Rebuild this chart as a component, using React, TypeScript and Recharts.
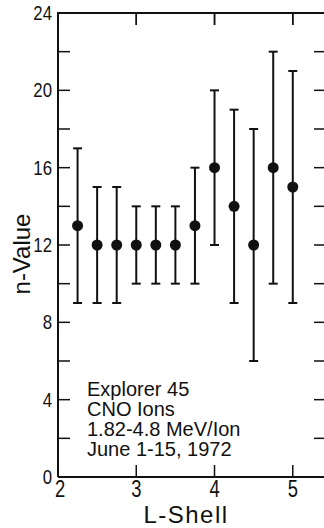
import React from 'react';
import { ScatterChart, Scatter, XAxis, YAxis, ErrorBar, ReferenceLine, Customized } from 'recharts';

const lShell = [2.25, 2.5, 2.75, 3.0, 3.25, 3.5, 3.75, 4.0, 4.25, 4.5, 4.75, 5.0];
const nValue = [13, 12, 12, 12, 12, 12, 13, 16, 14, 12, 16, 15];
const nLow = [9, 9, 9, 10, 10, 10, 10, 12, 9, 6, 10, 9];
const nHigh = [17, 15, 15, 14, 14, 14, 16, 20, 19, 18, 22, 21];

const xDomain = [2, 5.45];
const xLabelTicks = [2, 3, 4, 5];
const xFrameTicks = [3, 4, 5];
const yDomain = [0, 24];
const yAllTicks = [0, 2, 4, 6, 8, 10, 12, 14, 16, 18, 20, 22, 24];
const yLabelTicks = [0, 4, 8, 12, 16, 20, 24];
const yRightTicks = [2, 4, 6, 8, 10, 12, 14, 16, 18, 20, 22];
const annotationLines = ['Explorer 45', 'CNO Ions', '1.82-4.8 MeV/Ion', 'June 1-15, 1972'];

const data = lShell.map((x, i) => ({
  x,
  y: nValue[i],
  err: [nValue[i] - nLow[i], nHigh[i] - nValue[i]],
}));

const INK = '#111';
const SANS = '"Liberation Sans", Arial, sans-serif';
const tickLineStyle = { stroke: INK, strokeWidth: 1.5 };
const axisLineStyle = { stroke: INK, strokeWidth: 2 };
const TOP_TICK_FRACTION = 0.026;

// chart box
const CHART_W = 340;
const CHART_H = 528;
const MARGIN = { top: 1, right: 11, bottom: 0, left: 0 };
const TOP_AXIS_H = 12;
const LEFT_AXIS_W = 58;
const RIGHT_AXIS_W = 1;
const PLOT_LEFT = MARGIN.left + LEFT_AXIS_W;
const PLOT_RIGHT = CHART_W - MARGIN.right - RIGHT_AXIS_W;
const PLOT_TOP = MARGIN.top + TOP_AXIS_H;

const LeftTickLabel = (props: any) => {
  const { x, y, payload } = props;
  if (!yLabelTicks.includes(payload.value)) return <g />;
  return (
    <text
      transform={`translate(${x}, ${y + 7}) scale(0.84, 1)`}
      textAnchor="end"
      fontSize={20}
      fontFamily={SANS}
      fill={INK}
    >
      {payload.value}
    </text>
  );
};

const BottomTickLabel = (props: any) => {
  const { x, y, payload } = props;
  const dx = payload.value === 2 ? 2 : 0;
  return (
    <text
      transform={`translate(${x + dx}, ${y + 17}) scale(0.8, 1)`}
      textAnchor="middle"
      fontSize={23}
      fontFamily={SANS}
      fill={INK}
    >
      {payload.value}
    </text>
  );
};

const Nothing = () => <g />;

const Dot = (props: any) => <circle cx={props.cx} cy={props.cy} r={5.5} fill={INK} />;

const Annotation = () => (
  <text fontSize={20} fontFamily={SANS} fill={INK}>
    {annotationLines.map((s, i) => (
      <tspan key={s} x={87} y={396 + i * 20}>
        {s}
      </tspan>
    ))}
  </text>
);

const XTitle = (props: any) => {
  const vb = props.viewBox;
  return (
    <text x={vb.x + vb.width / 2 - 7} y={523} textAnchor="middle" fontSize={24} letterSpacing={1.5} fontFamily={SANS} fill={INK}>
      L-Shell
    </text>
  );
};

const YTitle = () => {
  const cx = 30;
  const cy = 254;
  return (
    <text x={cx} y={cy} textAnchor="middle" fontSize={24} fontFamily={SANS} fill={INK} transform={`rotate(-90, ${cx}, ${cy})`}>
      n-Value
    </text>
  );
};

// top frame (border + inward ticks), kept as a plain overlay so it is always painted
const TopFrame = () => {
  const toPx = (v: number) => PLOT_LEFT + ((v - xDomain[0]) / (xDomain[1] - xDomain[0])) * (PLOT_RIGHT - PLOT_LEFT);
  return (
    <svg width={CHART_W} height={40} style={{ position: 'absolute', left: 0, top: 0, pointerEvents: 'none' }}>
      <line x1={PLOT_LEFT - 1} x2={PLOT_RIGHT} y1={PLOT_TOP} y2={PLOT_TOP} stroke={INK} strokeWidth={2} />
      {xFrameTicks.map((t) => (
        <line key={t} x1={toPx(t)} x2={toPx(t)} y1={PLOT_TOP} y2={PLOT_TOP + 12} stroke={INK} strokeWidth={1.5} />
      ))}
    </svg>
  );
};

export default function App() {
  const yTop = yDomain[1];
  const yTickEnd = yTop - (yDomain[1] - yDomain[0]) * TOP_TICK_FRACTION;
  return (
    <div style={{ position: 'absolute', left: 0, top: 0, width: 324, height: 528, overflow: 'hidden', background: '#fff' }}>
      <ScatterChart width={CHART_W} height={CHART_H} margin={MARGIN}>
        <XAxis
          xAxisId={1}
          orientation="top"
          type="number"
          domain={xDomain}
          ticks={xFrameTicks}
          interval={0}
          height={TOP_AXIS_H}
          tickSize={-12}
          tickLine={tickLineStyle}
          axisLine={axisLineStyle}
          tick={false}
        />
        <XAxis
          xAxisId={0}
          orientation="bottom"
          type="number"
          dataKey="x"
          domain={xDomain}
          ticks={xLabelTicks}
          interval={0}
          allowDataOverflow
          height={51}
          tickSize={-12}
          tickMargin={15}
          tickLine={tickLineStyle}
          axisLine={axisLineStyle}
          tick={<BottomTickLabel />}
          label={<XTitle />}
        />
        <YAxis
          yAxisId={0}
          type="number"
          dataKey="y"
          domain={yDomain}
          ticks={yAllTicks}
          interval={0}
          allowDataOverflow
          width={LEFT_AXIS_W}
          tickSize={-12}
          tickMargin={18}
          tickLine={tickLineStyle}
          axisLine={axisLineStyle}
          tick={<LeftTickLabel />}
          label={<YTitle />}
        />
        <YAxis
          yAxisId={1}
          orientation="right"
          type="number"
          domain={yDomain}
          ticks={yRightTicks}
          interval={0}
          width={RIGHT_AXIS_W}
          tickSize={-14}
          tickMargin={0}
          tickLine={tickLineStyle}
          axisLine={axisLineStyle}
          tick={<Nothing />}
        />
        {xFrameTicks.map((t) => (
          <ReferenceLine
            key={t}
            xAxisId={0}
            yAxisId={0}
            segment={[{ x: t, y: yTop }, { x: t, y: yTickEnd }]}
            stroke={INK}
            strokeWidth={1.5}
          />
        ))}
        <Scatter
          data={data}
          dataKey="y"
          xAxisId={1}
          yAxisId={1}
          shape={<Nothing />}
          isAnimationActive={false}
        />
        <Scatter
          data={data}
          dataKey="y"
          xAxisId={0}
          yAxisId={0}
          fill={INK}
          shape={<Dot />}
          isAnimationActive={false}
        >
          <ErrorBar dataKey="err" direction="y" width={4.5} stroke={INK} strokeWidth={2} isAnimationActive={false} />
        </Scatter>
        <Customized component={Annotation} />
      </ScatterChart>
      <TopFrame />
    </div>
  );
}
